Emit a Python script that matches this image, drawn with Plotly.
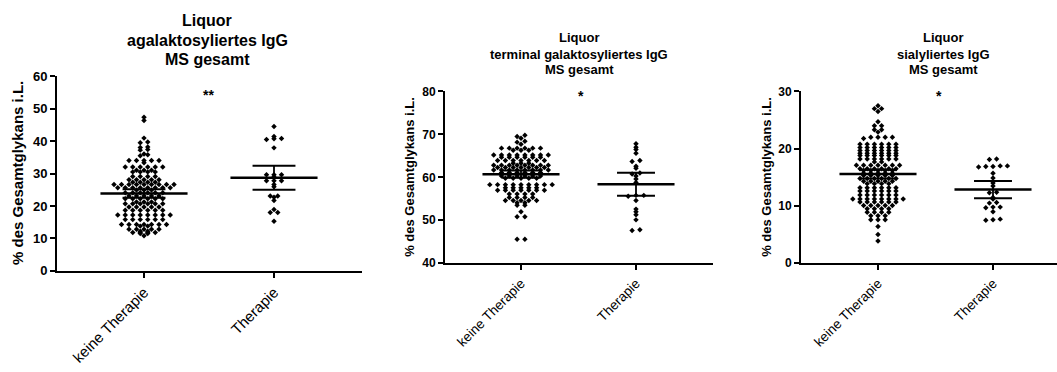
import plotly.graph_objects as go
import numpy as np

W, H = 1057, 372

categories = ["keine Therapie", "Therapie"]

titles = [
    ["Liquor", "agalaktosyliertes IgG", "MS gesamt"],
    ["Liquor", "terminal galaktosyliertes IgG", "MS gesamt"],
    ["Liquor", "sialyliertes IgG", "MS gesamt"],
]
y_title = "% des Gesamtglykans i.L."
significance = ["**", "*", "*"]
y_ranges = [(0, 60), (40, 80), (0, 30)]
y_ticks = [[0, 10, 20, 30, 40, 50, 60], [40, 50, 60, 70, 80], [0, 10, 20, 30]]

def rows(*pairs):
    out = []
    for v, n in pairs:
        out += [v] * n
    return out

# Panel 1: agalaktosyliertes IgG
agal_keine = rows((47.3, 1), (46.3, 1), (40.9, 1), (39.7, 1), (39.5, 1), (38.2, 1), (38.0, 1),
                  (37.4, 1), (37.2, 1), (36.0, 1), (35.8, 1), (35.5, 1), (34.0, 5), (33.3, 1),
                  (32.0, 6), (31.0, 3), (30.5, 4), (29.1, 4), (28.1, 5), (27.3, 4), (26.6, 9),
                  (25.6, 8), (24.9, 3), (24.1, 6), (23.1, 5), (22.2, 6), (21.2, 3), (20.7, 6),
                  (19.7, 5), (18.7, 6), (17.2, 8), (15.8, 6), (14.3, 7), (13.8, 2), (12.8, 5),
                  (12.2, 2), (11.8, 4), (11.5, 2), (10.8, 1))
agal_ther = [44.5, 41.4, 40.8, 40.5, 40.7, 37.9, 29.6, 29.6, 29.6, 28.9, 27.8, 27.8, 27.8,
             26.6, 25.9, 23.1, 23.1, 22.7, 21.7, 18.9, 18.0, 18.0, 15.3]

# Panel 2: terminal galaktosyliertes IgG
term_keine = rows((69.8, 1), (69.5, 1), (69.1, 1), (68.4, 1), (68.2, 1), (67.7, 1), (66.8, 6),
                  (66.3, 3), (65.2, 8), (64.7, 6), (63.9, 7), (63.3, 3), (62.8, 8), (62.3, 7),
                  (61.7, 8), (61.1, 6), (60.3, 6), (59.8, 5), (58.3, 9), (57.6, 5), (57.0, 7),
                  (56.1, 4), (55.3, 4), (54.6, 5), (54.1, 2), (53.5, 2), (52.0, 1), (50.8, 2),
                  (45.6, 2))
term_ther = [67.8, 67.0, 66.5, 65.6, 63.9, 63.7, 62.6, 62.1, 61.0, 60.8, 60.3, 59.6, 58.8,
             55.8, 55.8, 55.6, 54.6, 52.6, 52.0, 51.3, 50.1, 47.8, 47.6]

# Panel 3: sialyliertes IgG
sial_keine = rows((27.5, 1), (27.0, 2), (26.5, 1), (24.7, 1), (24.0, 2), (23.3, 2), (22.9, 1),
                  (22.0, 4), (21.8, 1), (20.8, 6), (20.2, 6), (19.7, 6), (19.2, 6), (18.8, 6),
                  (18.2, 6), (17.7, 2), (17.1, 7), (16.5, 6), (16.2, 5), (15.7, 5), (15.3, 5),
                  (14.8, 6), (14.3, 5), (13.9, 4), (13.2, 6), (12.6, 6), (11.9, 6), (11.2, 8),
                  (10.7, 6), (10.1, 5), (9.5, 4), (8.9, 4), (8.3, 3), (7.6, 3), (6.4, 1),
                  (5.0, 1), (3.9, 1))
sial_ther = [18.2, 18.1, 17.0, 16.9, 16.8, 17.0, 16.9, 15.7, 14.9, 14.0, 13.5, 12.3, 12.4,
             11.5, 11.2, 10.5, 10.6, 9.8, 9.8, 9.7, 9.0, 7.7, 7.6, 7.5]

data = [(agal_keine, agal_ther), (term_keine, term_ther), (sial_keine, sial_ther)]

# pixel layout of each panel: (x_left, x_right, y_top, y_bottom, first tick px, tick spacing px)
panels_px = [
    (57, 362, 72, 275, 144, 130),
    (445, 713, 88, 267, 521, 115),
    (801, 1057, 88, 267, 878, 115),
]
point_spacing_px = [7.5, 7.8, 7.2]


def t_quantile(nu, z=1.959964):
    g1 = (z**3 + z) / 4
    g2 = (5 * z**5 + 16 * z**3 + 3 * z) / 96
    g3 = (3 * z**7 + 19 * z**5 + 17 * z**3 - 15 * z) / 384
    return z + g1 / nu + g2 / nu**2 + g3 / nu**3


def swarm(values, center, bin_units, dx):
    vals = sorted(values)
    grp = []
    for v in vals:
        if grp and v - grp[-1][0] <= bin_units:
            grp[-1].append(v)
        else:
            grp.append([v])
    xs, ys = [], []
    for r in grp:
        n = len(r)
        for i, v in enumerate(r):
            xs.append(center + (i - (n - 1) / 2) * dx)
            ys.append(v)
    return xs, ys


fig = go.Figure()
FONT = "Liberation Sans, Arial, sans-serif"
annotations = []
layout = {}

for p in range(3):
    xl, xr, yt, yb, t0, sp = panels_px[p]
    ax = "" if p == 0 else str(p + 1)
    xa, ya = "x" + ax, "y" + ax
    x0 = (xl - t0) / sp
    x1 = (xr - t0) / sp
    ylo, yhi = y_ranges[p]
    dx = point_spacing_px[p] / sp
    for ci, vals in enumerate(data[p]):
        xs, ys = swarm(vals, ci, 0.3, dx)
        fig.add_trace(go.Scatter(x=xs, y=ys, mode="markers", xaxis=xa, yaxis=ya,
                                 marker=dict(symbol="diamond", size=4.2, color="black",
                                             line=dict(width=0)),
                                 hoverinfo="y", showlegend=False))
        arr = np.array(vals)
        m = arr.mean()
        sem = arr.std(ddof=1) / np.sqrt(len(arr))
        h = t_quantile(len(arr) - 1) * sem
        hw, cw = 0.335, 0.165
        fig.add_trace(go.Scatter(x=[ci - hw, ci + hw], y=[m, m], mode="lines", xaxis=xa, yaxis=ya,
                                 line=dict(color="black", width=2.5), showlegend=False, hoverinfo="skip"))
        fig.add_trace(go.Scatter(x=[ci, ci], y=[m - h, m + h], mode="lines", xaxis=xa, yaxis=ya,
                                 line=dict(color="black", width=1.8), showlegend=False, hoverinfo="skip"))
        for yy in (m - h, m + h):
            fig.add_trace(go.Scatter(x=[ci - cw, ci + cw], y=[yy, yy], mode="lines", xaxis=xa, yaxis=ya,
                                     line=dict(color="black", width=2), showlegend=False, hoverinfo="skip"))

    tick_size = 13 if p == 0 else 12
    xtick_size = 15 if p == 0 else 13.5
    layout["xaxis" + ax] = dict(domain=[xl / W, xr / W], range=[x0, x1], anchor=ya,
                                tickvals=[0, 1], ticktext=categories, tickangle=-45,
                                tickfont=dict(family=FONT, size=xtick_size, color="black"),
                                showline=True, linecolor="black", linewidth=2,
                                ticks="outside", ticklen=5, tickwidth=2, tickcolor="black",
                                showgrid=False, zeroline=False, fixedrange=True)
    layout["yaxis" + ax] = dict(domain=[1 - yb / H, 1 - yt / H], range=[ylo, yhi], anchor=xa,
                                tickvals=y_ticks[p],
                                tickfont=dict(family=FONT, size=tick_size, color="black", weight="bold"),
                                showline=True, linecolor="black", linewidth=2,
                                ticks="outside", ticklen=5, tickwidth=2, tickcolor="black",
                                showgrid=False, zeroline=False, fixedrange=True)

    # titles
    cx = [207, 579, 943][p]
    if p == 0:
        lines_y, fs = [14, 34.5, 55], 16
    else:
        lines_y, fs = [32, 49, 65], 13
    for txt, ly in zip(titles[p], lines_y):
        annotations.append(dict(x=cx / W, y=1 - ly / H, xref="paper", yref="paper",
                                text="<b>" + txt + "</b>", showarrow=False,
                                xanchor="center", yanchor="middle",
                                font=dict(family=FONT, size=fs, color="black")))
    # y-axis title
    ytx, yty, yfs = [(17, 173, 15), (410, 177, 13), (767, 177, 13)][p]
    annotations.append(dict(x=ytx / W, y=1 - yty / H, xref="paper", yref="paper",
                            text="<b>" + y_title + "</b>", showarrow=False, textangle=-90,
                            xanchor="center", yanchor="middle",
                            font=dict(family=FONT, size=yfs, color="black")))
    # significance stars
    sx, sy = [(208, 92), (581, 93), (939, 93)][p]
    annotations.append(dict(x=sx / W, y=1 - sy / H, xref="paper", yref="paper",
                            text="<b>" + significance[p] + "</b>", showarrow=False,
                            xanchor="center", yanchor="middle",
                            font=dict(family=FONT, size=14, color="black")))

fig.update_layout(width=W, height=H, margin=dict(l=0, r=0, t=0, b=0),
                  paper_bgcolor="white", plot_bgcolor="white",
                  annotations=annotations, showlegend=False, **layout)

fig.write_html("out.html", config={"displayModeBar": False})
